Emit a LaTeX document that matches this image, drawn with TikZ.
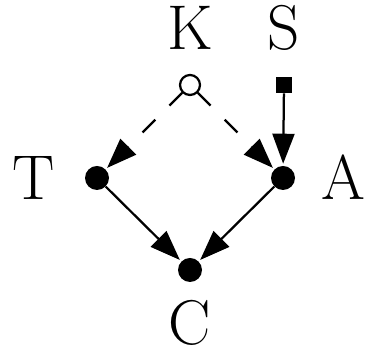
\documentclass[tikz,border=0pt]{standalone}
\usepackage{amsmath}
\usetikzlibrary{arrows.meta,positioning}

\begin{document}
\begin{tikzpicture}[
  font=\fontsize{45}{54}\selectfont,
  >={Triangle[length=7.5mm,width=5.5mm]},
  edge/.style={->, line width=1.6pt, shorten >=0.5mm},
  latentedge/.style={->, line width=1.6pt, shorten >=0.5mm, dash pattern=on 4.5mm off 5mm},
  vertex/.style={circle, fill=black, inner sep=0pt, minimum size=6mm},
  latent/.style={circle, draw=black, fill=white, line width=1.6pt, inner sep=0pt, minimum size=5mm},
  intervention/.style={rectangle, fill=black, inner sep=0pt, minimum size=4mm},
  varlabel/.style={inner sep=0pt}
]
\useasboundingbox (0,0) rectangle (9.35,8.9);

% Variables of the graph.
\node[latent] (k) at (4.75,6.775) {};
\node[intervention] (s) at (7.1,6.775) {};
\node[vertex] (t) at (2.425,4.45) {};
\node[vertex] (a) at (7.075,4.45) {};
\node[vertex] (c) at (4.75,2.15) {};

% Letters next to the variables.
\node[varlabel] (klabel) at (4.75,8.2) {K};
\node[varlabel] (slabel) at (7.1,8.2) {S};
\node[varlabel] (tlabel) at (0.85,4.45) {T};
\node[varlabel] (alabel) at (8.575,4.475) {A};
\node[varlabel] (clabel) at (4.75,0.825) {C};

% Confounding through the hidden variable.
\draw[latentedge] (k) -- (t);
\draw[latentedge] (k) -- (a);

% Direct effects.
\draw[edge] (s) -- (a);
\draw[edge] (t) -- (c);
\draw[edge] (a) -- (c);

\end{tikzpicture}
\end{document}
